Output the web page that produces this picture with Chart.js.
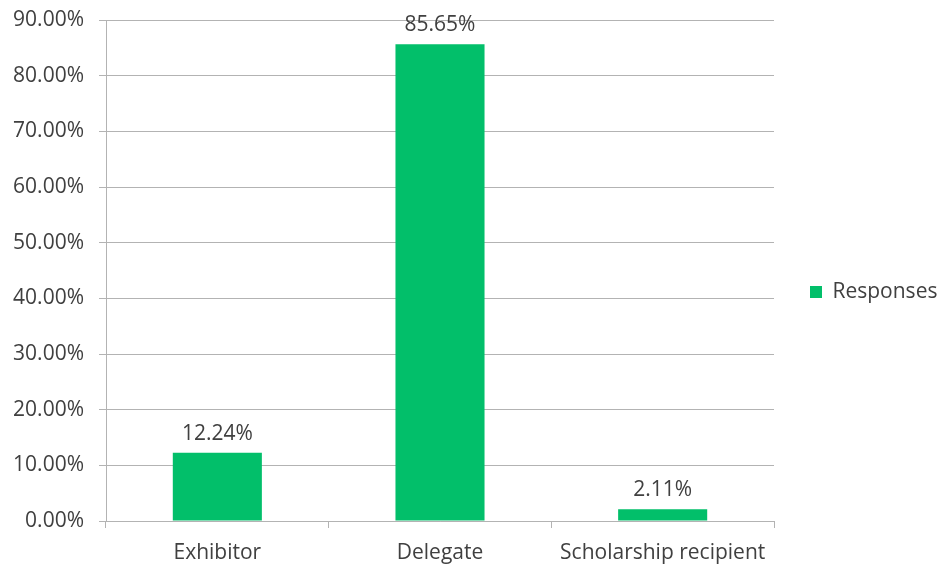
<!DOCTYPE html>
<html>
<head>
<meta charset="utf-8">
<script src="https://cdn.jsdelivr.net/npm/chart.js@4"></script>
<style>
  html, body { margin: 0; padding: 0; background: #fff; }
  #wrap { width: 939px; height: 564px; }
</style>
</head>
<body>
<div id="wrap"><canvas id="respChart"></canvas></div>
<script>
const categories = ["Exhibitor", "Delegate", "Scholarship recipient"];
const responses = [0.1224, 0.8565, 0.0211];
const seriesName = "Responses";

const barColor = "#02BF6A";
const textColor = "#404040";
const gridColor = "#b3b3b3";

function pct(v) {
    return (v * 100).toFixed(2) + "%";
}

// value labels above each bar
const barLabels = {
    id: "barLabels",
    afterDatasetsDraw(chart) {
        const ctx = chart.ctx;
        const meta = chart.getDatasetMeta(0);
        ctx.save();
        ctx.font = "21px 'Open Sans'";
        ctx.fillStyle = textColor;
        ctx.textAlign = "center";
        ctx.textBaseline = "alphabetic";
        meta.data.forEach((bar, i) => {
            ctx.fillText(pct(responses[i]), bar.x, bar.y - 13);
        });
        ctx.restore();
    }
};

Chart.defaults.font.family = "'Open Sans'";
Chart.defaults.font.size = 21;
Chart.defaults.color = textColor;

new Chart(document.getElementById("respChart").getContext("2d"), {
    type: "bar",
    data: {
        labels: categories,
        datasets: [{
            label: seriesName,
            data: responses,
            backgroundColor: barColor,
            categoryPercentage: 1.0,
            barPercentage: 0.4
        }]
    },
    options: {
        responsive: true,
        maintainAspectRatio: false,
        animation: false,
        layout: { padding: { top: 20, right: 0, bottom: 0, left: 0 } },
        plugins: {
            tooltip: { enabled: false },
            legend: {
                position: "right",
                maxWidth: 165,
                labels: {
                    boxWidth: 12,
                    boxHeight: 12,
                    padding: 36,
                    color: textColor,
                    font: { size: 21 }
                }
            }
        },
        scales: {
            x: {
                grid: {
                    offset: true,
                    drawOnChartArea: false,
                    color: gridColor,
                    tickLength: 7
                },
                border: { color: gridColor },
                ticks: { color: textColor, padding: 12 },
                afterFit(scale) { scale.height = 43; }
            },
            y: {
                min: 0,
                max: 0.9,
                grid: { color: gridColor, tickLength: 7 },
                border: { color: gridColor },
                ticks: {
                    stepSize: 0.1,
                    color: textColor,
                    padding: 15,
                    callback: (v) => pct(v)
                },
                afterFit(scale) {
                    scale.width = 106;
                    scale.paddingTop = 0;
                    scale.paddingBottom = 0;
                }
            }
        }
    },
    plugins: [barLabels]
});
</script>
</body>
</html>
